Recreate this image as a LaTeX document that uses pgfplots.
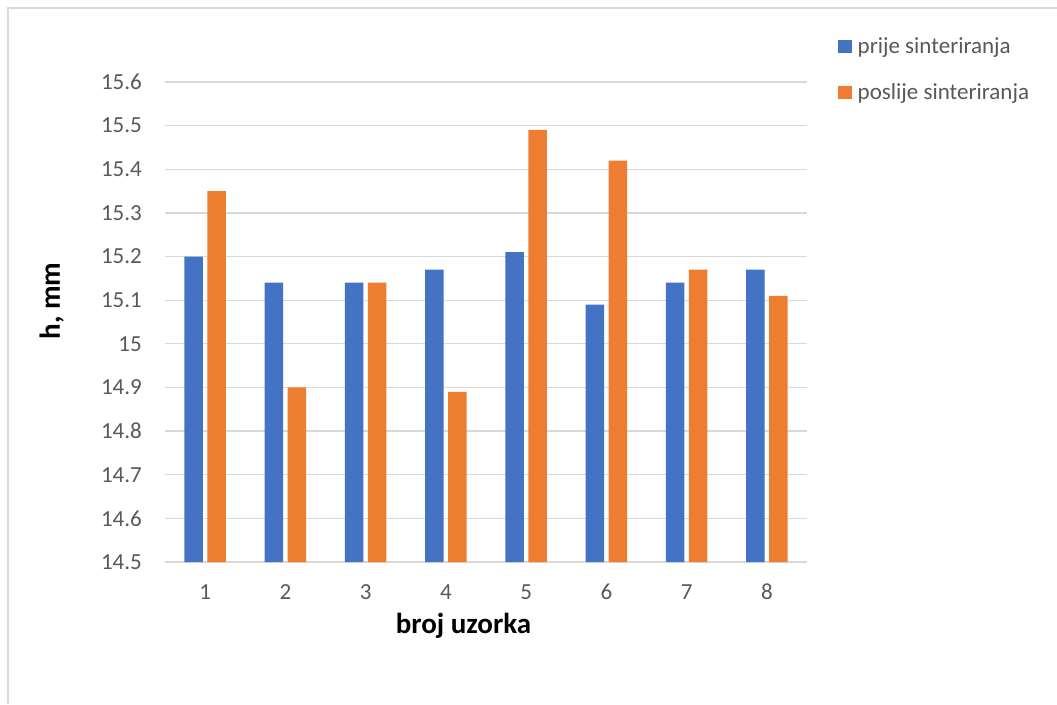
\documentclass[border=0pt]{standalone}
\usepackage{pgfplots}
\pgfplotsset{compat=1.18}
\usepackage{fontspec}
\setmainfont{Carlito}
\definecolor{barblue}{HTML}{4472C4}
\definecolor{barorange}{HTML}{ED7D31}
\definecolor{gridgray}{HTML}{D9D9D9}
\definecolor{txtgray}{HTML}{595959}
\begin{document}
\begin{tikzpicture}
\useasboundingbox[fill=white] (0,0) rectangle (1057pt,704pt);
\draw[gridgray, line width=1.3pt] (8pt,0pt) -- (8pt,696pt) -- (1057pt,696pt);
\begin{axis}[
  at={(165pt,142pt)}, anchor=south west,
  scale only axis, width=642pt, height=480pt,
  xmin=0.5, xmax=8.5, ymin=14.5, ymax=15.6,
  xtick={1,2,3,4,5,6,7,8},
  ytick={14.5,14.6,14.7,14.8,14.9,15,15.1,15.2,15.3,15.4,15.5,15.6},
  axis line style={draw=none},
  major tick length=0pt,
  ymajorgrids, grid style={gridgray, line width=1.3pt},
  /pgf/number format/assume math mode=true,
  yticklabel style={/pgf/number format/fixed, /pgf/number format/precision=1,
    anchor=east, inner sep=0pt, xshift=-23pt},
  xticklabel style={anchor=base, inner sep=0pt, yshift=-37pt},
  tick label style={font=\fontsize{23}{27}\selectfont, text=txtgray},
  xlabel={broj uzorka},
  xlabel style={at={(axis description cs:0.465,0)}, anchor=base, yshift=-71pt,
    font=\bfseries\fontsize{29}{34}\selectfont},
  ylabel={h, mm},
  ylabel style={at={(axis description cs:-0.1636,0.544)}, anchor=base,
    font=\bfseries\fontsize{29}{34}\selectfont},
  ybar, bar width=18.5pt,
  legend style={at={(axis description cs:1.0483,1.092)}, anchor=north west,
    draw=none, fill=none, inner sep=0pt, row sep=28pt,
    font=\fontsize{23}{27}\selectfont, text=txtgray,
    nodes={inner sep=0pt},
    /tikz/every odd column/.append style={column sep=6pt}},
  legend cell align=left,
]
\addplot[fill=barblue, draw=none, bar shift=-11.5pt,
  legend image code/.code={\fill[barblue] (0pt,-6.5pt) rectangle (13.5pt,6.5pt);}]
  coordinates {(1,15.20) (2,15.14) (3,15.14) (4,15.17) (5,15.21) (6,15.09) (7,15.14) (8,15.17)};
\addlegendentry{prije sinteriranja}
\addplot[fill=barorange, draw=none, bar shift=11.5pt,
  legend image code/.code={\fill[barorange] (0pt,-6.5pt) rectangle (13.5pt,6.5pt);}]
  coordinates {(1,15.35) (2,14.90) (3,15.14) (4,14.89) (5,15.49) (6,15.42) (7,15.17) (8,15.11)};
\addlegendentry{poslije sinteriranja}
\end{axis}
\end{tikzpicture}
\end{document}
